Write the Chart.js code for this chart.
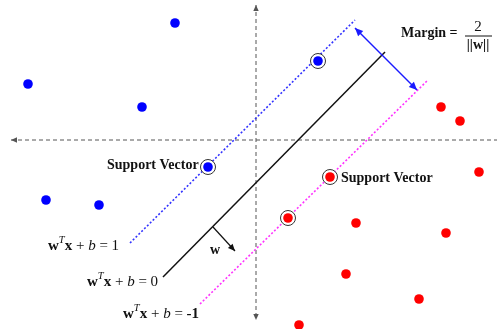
<!DOCTYPE html>
<html>
<head>
<title>SVM margin</title>
<script src="https://cdn.jsdelivr.net/npm/chart.js"></script>
<style>
  html, body { margin: 0; padding: 0; background: #fff; }
  #wrap { width: 497px; height: 329px; }
</style>
</head>
<body>
<div id="wrap"><canvas id="svm"></canvas></div>
<script>
// data, in plot units (origin where the two axes cross)
const classA = [[-1.62, 2.34], [-4.56, 1.12], [-2.28, 0.66], [-4.2, -1.2], [-3.14, -1.3]];
const classASupport = [[1.24, 1.58], [-0.96, -0.54]];
const classB = [[3.7, 0.66], [4.08, 0.38], [4.46, -0.64], [2.0, -1.66], [3.8, -1.86],
                [1.8, -2.68], [3.26, -3.18], [0.86, -3.7]];
const classBSupport = [[1.48, -0.74], [0.64, -1.56]];
const hyperplane = [[-1.86, -2.74], [2.58, 1.76]];
const plusPlane = [[-2.52, -2.06], [1.98, 2.4]];
const minusPlane = [[-1.12, -3.28], [3.44, 1.2]];
const marginArrow = [[1.98, 2.24], [3.22, 1.0]];
const wArrow = [[-0.86, -1.74], [-0.42, -2.22]];
const xAxisLine = [[-4.9, 0], [4.82, 0]];
const yAxisLine = [[0, 2.7], [0, -3.6]];

const pts = arr => arr.map(p => ({x: p[0], y: p[1]}));

function seg(data, color, width, dash, arrow) {
  return {
    type: 'line', data: pts(data), borderColor: color, borderWidth: width,
    borderDash: dash, pointRadius: 0, fill: false, arrow: arrow
  };
}

// draws arrowheads at ends of line datasets
const arrowPlugin = {
  id: 'arrows',
  afterDatasetsDraw(chart) {
    const ctx = chart.ctx;
    chart.data.datasets.forEach((ds, i) => {
      if (!ds.arrow) return;
      const el = chart.getDatasetMeta(i).data;
      const a = el[0], b = el[el.length - 1];
      const head = (from, to) => {
        const ang = Math.atan2(to.y - from.y, to.x - from.x);
        const L = ds.arrow.size, W = L * 0.45;
        ctx.save();
        ctx.fillStyle = ds.borderColor;
        ctx.beginPath();
        ctx.moveTo(to.x, to.y);
        ctx.lineTo(to.x - L * Math.cos(ang) + W * Math.sin(ang), to.y - L * Math.sin(ang) - W * Math.cos(ang));
        ctx.lineTo(to.x - L * Math.cos(ang) - W * Math.sin(ang), to.y - L * Math.sin(ang) + W * Math.cos(ang));
        ctx.closePath();
        ctx.fill();
        ctx.restore();
      };
      if (ds.arrow.end) head(a, b);
      if (ds.arrow.start) head(b, a);
    });
  }
};

// text annotations
const serif = '"Liberation Serif", "Times New Roman", serif';
function richText(ctx, x, y, parts, size) {
  let cx = x;
  parts.forEach(p => {
    const s = p.sup ? size * 0.7 : size;
    ctx.font = (p.style || '') + ' ' + s + 'px ' + serif;
    ctx.fillText(p.t, cx, p.sup ? y - size * 0.38 : y);
    cx += ctx.measureText(p.t).width;
  });
}
function eqParts(rhs) {
  return [
    {t: 'w', style: 'bold'}, {t: 'T', style: 'italic', sup: true}, {t: 'x', style: 'bold'},
    {t: ' + '}, {t: 'b', style: 'italic'}, {t: ' = '}, {t: rhs, style: rhs === '-1' ? 'bold' : ''}
  ];
}

const textPlugin = {
  id: 'labels',
  afterDatasetsDraw(chart) {
    const ctx = chart.ctx, X = chart.scales.x, Y = chart.scales.y;
    const px = v => X.getPixelForValue(v), py = v => Y.getPixelForValue(v);
    ctx.save();
    ctx.fillStyle = '#111';
    ctx.textBaseline = 'middle';
    ctx.textAlign = 'left';
    ctx.font = 'bold 14px ' + serif;
    ctx.fillText('Support Vector', px(-2.98), py(-0.5));
    ctx.fillText('Support Vector', px(1.7), py(-0.76));
    ctx.fillText('Margin =', px(2.9), py(2.14));
    ctx.textAlign = 'center';
    ctx.font = '15px ' + serif;
    ctx.fillText('2', px(4.44), py(2.26));
    ctx.font = 'bold 14px ' + serif;
    ctx.fillText('||w||', px(4.44), py(1.9));
    ctx.fillText('w', px(-0.82), py(-2.2));
    ctx.strokeStyle = '#111';
    ctx.lineWidth = 1;
    ctx.beginPath();
    ctx.moveTo(px(4.18), py(2.08));
    ctx.lineTo(px(4.72), py(2.08));
    ctx.stroke();
    ctx.textAlign = 'left';
    richText(ctx, px(-4.16), py(-2.12), eqParts('1'), 15);
    richText(ctx, px(-3.38), py(-2.84), eqParts('0'), 15);
    richText(ctx, px(-2.66), py(-3.48), eqParts('-1'), 15);
    ctx.restore();
  }
};

// Chart.js paints the last dataset first, so the dots go first here
new Chart(document.getElementById('svm'), {
  type: 'scatter',
  data: {
    datasets: [
      {data: pts(classA.concat(classASupport)), pointRadius: 4.8, pointBorderWidth: 0,
       pointBackgroundColor: '#0000ff'},
      {data: pts(classB.concat(classBSupport)), pointRadius: 4.8, pointBorderWidth: 0,
       pointBackgroundColor: '#ff0000'},
      {data: pts(classASupport.concat(classBSupport)), pointRadius: 7.5, pointBorderWidth: 1,
       pointBorderColor: '#333', pointBackgroundColor: '#fff'},
      seg(wArrow, '#111', 1.2, [], {end: true, size: 7}),
      seg(marginArrow, '#1a1aff', 1.5, [], {start: true, end: true, size: 8}),
      seg(hyperplane, '#111', 1.5, []),
      seg(minusPlane, '#ff33ff', 1.6, [2, 2]),
      seg(plusPlane, '#3333ff', 1.6, [2, 2]),
      seg(yAxisLine, '#555', 1, [4, 3], {start: true, end: true, size: 6}),
      seg(xAxisLine, '#555', 1, [4, 3], {start: true, size: 6})
    ]
  },
  options: {
    responsive: true,
    maintainAspectRatio: false,
    animation: false,
    layout: {padding: 0, autoPadding: false},
    plugins: {legend: {display: false}, tooltip: {enabled: false}},
    scales: {
      x: {type: 'linear', min: -5.12, max: 4.82, display: false},
      y: {type: 'linear', min: -3.78, max: 2.8, display: false}
    }
  },
  plugins: [arrowPlugin, textPlugin]
});
</script>
</body>
</html>
